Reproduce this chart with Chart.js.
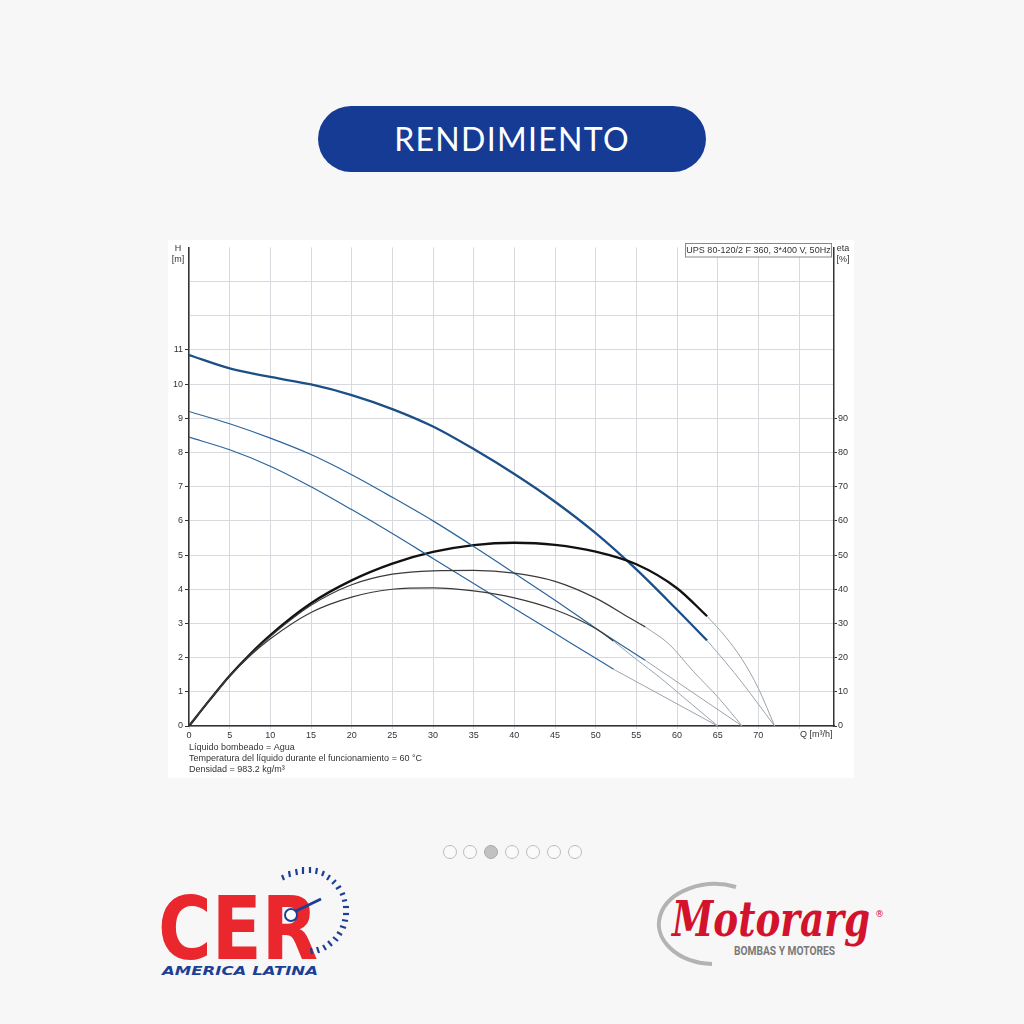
<!DOCTYPE html>
<html>
<head>
<meta charset="utf-8">
<script src="https://cdn.jsdelivr.net/npm/chart.js@4.4.1/dist/chart.umd.min.js"></script>
<style>
  html,body{margin:0;padding:0;}
  body{width:1024px;height:1024px;background:#f7f7f7;position:relative;overflow:hidden;font-family:"Liberation Sans",Arial,sans-serif;}
  #pill{position:absolute;left:318px;top:106px;width:388px;height:66px;border-radius:33px;background:#163b94;color:#fff;
        font-family:Lato,"Open Sans",sans-serif;font-size:32px;line-height:66px;text-align:center;letter-spacing:1.3px;}
  #box{position:absolute;left:168px;top:240px;width:686px;height:538px;background:#fff;}
  #c{position:absolute;left:0;top:0;}
  .dot{position:absolute;top:845px;width:12px;height:12px;border-radius:50%;border:1.5px solid #bdbdbd;background:#fafafa;}
  .dot.on{background:#c2c2c2;border-color:#aaa;}
  svg{position:absolute;}
</style>
</head>
<body>
<div id="pill">RENDIMIENTO</div>
<div id="box"><canvas id="c" width="686" height="538"></canvas></div>

<div class="dot" style="left:443px"></div>
<div class="dot" style="left:463px"></div>
<div class="dot on" style="left:484px"></div>
<div class="dot" style="left:505px"></div>
<div class="dot" style="left:526px"></div>
<div class="dot" style="left:547px"></div>
<div class="dot" style="left:568px"></div>

<!-- CER logo -->
<svg style="left:150px;top:860px" width="220" height="120" viewBox="0 0 220 120">
  <text x="8" y="99" font-family="DejaVu Sans, sans-serif" font-weight="bold" font-size="88" fill="#e9272c" textLength="160" lengthAdjust="spacingAndGlyphs">CER</text>
  <circle cx="141" cy="55" r="6" fill="#fff" stroke="#1d3f94" stroke-width="2"/>
  <line x1="146" y1="51" x2="171" y2="39" stroke="#1d3f94" stroke-width="3"/>
  <g stroke="#1d3f94" stroke-width="2.2">
    <line x1="132" y1="15" x2="134" y2="20"/><line x1="139" y1="11" x2="140" y2="17"/>
    <line x1="146" y1="9" x2="147" y2="15"/><line x1="153" y1="7" x2="153" y2="14"/>
    <line x1="160" y1="7" x2="160" y2="13"/><line x1="167" y1="8" x2="166" y2="14"/>
    <line x1="174" y1="11" x2="172" y2="16"/><line x1="180" y1="15" x2="177" y2="20"/>
    <line x1="186" y1="20" x2="182" y2="24"/><line x1="191" y1="26" x2="186" y2="29"/>
    <line x1="195" y1="33" x2="190" y2="35"/><line x1="197" y1="40" x2="192" y2="41"/>
    <line x1="199" y1="47" x2="193" y2="47"/><line x1="199" y1="54" x2="193" y2="54"/>
    <line x1="198" y1="61" x2="192" y2="60"/><line x1="196" y1="68" x2="190" y2="66"/>
    <line x1="192" y1="75" x2="187" y2="72"/><line x1="188" y1="81" x2="183" y2="77"/>
    <line x1="182" y1="86" x2="178" y2="81"/><line x1="176" y1="90" x2="173" y2="85"/>
    <line x1="169" y1="93" x2="167" y2="87"/><line x1="162" y1="94" x2="161" y2="88"/>
  </g>
  <text x="12" y="115" font-family="DejaVu Sans, sans-serif" font-weight="bold" font-style="italic" font-size="13" fill="#1d3f94" textLength="156" lengthAdjust="spacingAndGlyphs">AMERICA LATINA</text>
</svg>

<!-- Motorarg logo -->
<svg style="left:640px;top:870px" width="250" height="100" viewBox="0 0 250 100">
  <path d="M 96 17 A 56 40 0 1 0 72 94" fill="none" stroke="#b3b3b3" stroke-width="4"/>
  <text x="32" y="66" font-family="DejaVu Serif, serif" font-weight="bold" font-style="italic" font-size="48" fill="#d3122c" textLength="198" lengthAdjust="spacingAndGlyphs">Motorarg</text>
  <text x="235" y="47" font-family="DejaVu Sans, sans-serif" font-size="9" fill="#d3122c">®</text>
  <text x="94" y="85" font-family="Roboto, 'DejaVu Sans Condensed', sans-serif" font-weight="bold" font-size="12" fill="#7a7a7a" textLength="101" lengthAdjust="spacingAndGlyphs">BOMBAS Y MOTORES</text>
</svg>

<script>
// ---- Data (Q in m³/h, H in m, eta in %) ----
const flowHeadMain   = [0,5,10,15,20,25,30,35,40,45,50,55,60,63.7];
const headMain       = [10.85,10.46,10.21,9.99,9.68,9.27,8.76,8.1,7.37,6.56,5.64,4.58,3.4,2.5];
const flowHeadMainX  = [63.7,66,68,70,72];
const headMainX      = [2.5,1.86,1.27,0.64,0];

const flowHeadMid    = [0,5,10,15,20,25,30,35,40,45,50,56.1];
const headMid        = [9.2,8.84,8.42,7.94,7.35,6.69,6.0,5.25,4.47,3.68,2.86,1.92];
const flowHeadMidX   = [56.1,68];
const headMidX       = [1.92,0];

const flowHeadLow    = [0,5,10,15,20,25,30,35,40,45,50,52.2];
const headLow        = [8.45,8.08,7.6,7.0,6.33,5.63,4.9,4.17,3.44,2.71,1.98,1.66];
const flowHeadLowX   = [52.2,65];
const headLowX       = [1.66,0];

const flowEtaMain    = [0,2.5,5,7.5,10,15,20,25,30,35,40,45,50,55,60,63.7];
const etaMain        = [0,7.5,14.7,21,26.6,35.9,42.6,47.5,50.9,52.9,53.6,53,51,47.3,40.3,32.1];
const flowEtaMainX   = [63.7,66,68,70,72];
const etaMainX       = [32.1,26,19.5,11,0];

const flowEtaMid     = [0,2.5,5,7.5,10,15,20,25,30,35,40,45,50,54.2,56.1];
const etaMid         = [0,7.5,14.6,20.8,26.2,35.3,41.3,44.4,45.4,45.5,44.7,42.3,37.4,31.6,29];
const flowEtaMidX    = [56.1,59,62,65,68];
const etaMidX        = [29,24,16,8.5,0];

const flowEtaLow     = [0,2.5,5,7.5,10,15,20,25,30,35,40,45,50,52.2];
const etaLow         = [0,7.5,14.5,20.5,25.5,33.2,37.7,40,40.4,39.5,37.5,34,28.5,24.8];
const flowEtaLowX    = [52.2,55,58,61,65];
const etaLowX        = [24.8,19.5,14,8,0];

const leftTitle   = ['H','[m]'];
const rightTitle  = ['eta','[%]'];
const xTitle      = 'Q [m³/h]';
const infoLabel   = 'UPS 80-120/2 F 360, 3*400 V, 50Hz';
const notes       = ['Líquido bombeado = Agua',
                     'Temperatura del líquido durante el funcionamiento = 60 °C',
                     'Densidad = 983.2 kg/m³'];

const pts = (xs, ys) => xs.map((x, i) => ({x, y: ys[i]}));

const FONT = '"Liberation Sans", Arial, sans-serif';
const GRAY = '#9ca3ad';
const BLUE_T = '#1c4f87', BLUE = '#2b659b', BLACK_T = '#111', BLACK = '#3a3a3a';

function ds(data, color, width, axis) {
  return {data, borderColor: color, borderWidth: width, yAxisID: axis,
          pointRadius: 0, fill: false, cubicInterpolationMode: 'monotone'};
}

const datasets = [
  ds(pts(flowHeadMainX, headMainX), GRAY, 1, 'y'),
  ds(pts(flowHeadMidX, headMidX), GRAY, 1, 'y'),
  ds(pts(flowHeadLowX, headLowX), GRAY, 1, 'y'),
  ds(pts(flowEtaMainX, etaMainX), GRAY, 1, 'y1'),
  ds(pts(flowEtaMidX, etaMidX), GRAY, 1, 'y1'),
  ds(pts(flowEtaLowX, etaLowX), GRAY, 1, 'y1'),
  ds(pts(flowEtaLow, etaLow), BLACK, 1.2, 'y1'),
  ds(pts(flowEtaMid, etaMid), BLACK, 1.2, 'y1'),
  ds(pts(flowHeadLow, headLow), BLUE, 1.2, 'y'),
  ds(pts(flowHeadMid, headMid), BLUE, 1.2, 'y'),
  ds(pts(flowEtaMain, etaMain), BLACK_T, 2.3, 'y1'),
  ds(pts(flowHeadMain, headMain), BLUE_T, 2.3, 'y'),
];

const textPlugin = {
  id: 'texts',
  afterDraw(chart) {
    const {ctx, chartArea, scales} = chart;
    ctx.save();
    ctx.font = '9px ' + FONT;
    ctx.fillStyle = '#333';
    ctx.textBaseline = 'middle';
    ctx.textAlign = 'center';
    ctx.fillText(leftTitle[0], 10, 9);
    ctx.fillText(leftTitle[1], 10, 20);
    ctx.fillText(rightTitle[0], 675, 9);
    ctx.fillText(rightTitle[1], 675, 20);
    // info box
    ctx.fillStyle = '#fff';
    ctx.fillRect(517.5, 3.5, 146, 13.5);
    ctx.strokeStyle = '#888';
    ctx.lineWidth = 1;
    ctx.strokeRect(517.5, 3.5, 146, 13.5);
    ctx.fillStyle = '#333';
    ctx.fillText(infoLabel, 590.5, 10.5);
    // x axis title
    ctx.textAlign = 'left';
    ctx.fillText(xTitle, scales.x.getPixelForValue(75) + 1, chartArea.bottom + 9);
    // notes
    notes.forEach((t, i) => ctx.fillText(t, 21, chartArea.bottom + 22 + i * 11));
    ctx.restore();
  }
};

new Chart(document.getElementById('c'), {
  type: 'line',
  data: {datasets},
  plugins: [textPlugin],
  options: {
    responsive: false,
    animation: false,
    layout: {padding: {top: 6, left: 0, right: 0, bottom: 0}},
    plugins: {legend: {display: false}, tooltip: {enabled: false}},
    scales: {
      x: {
        type: 'linear', min: 0, max: 79.3,
        afterFit: s => { s.height = 52; },
        border: {color: '#333', width: 1.5},
        grid: {color: '#d7d9de', lineWidth: 1, tickLength: 3, tickColor: '#d7d9de'},
        ticks: {stepSize: 5, includeBounds: false, autoSkip: false, maxRotation: 0, padding: 1,
                color: '#333', font: {family: FONT, size: 9},
                callback: v => (v <= 70 ? String(v) : '')}
      },
      y: {
        type: 'linear', position: 'left', min: 0, max: 14,
        afterFit: s => { s.width = 21; },
        border: {color: '#333', width: 1.5},
        grid: {lineWidth: 1, tickLength: 4,
               color: c => (c.tick && c.tick.value === 14 ? 'rgba(0,0,0,0)' : '#d7d9de'),
               tickColor: c => (c.tick && c.tick.value <= 11 ? '#333' : 'rgba(0,0,0,0)')},
        ticks: {stepSize: 1, includeBounds: false, autoSkip: false, padding: 2,
                color: '#333', font: {family: FONT, size: 9},
                callback: v => (v <= 11 ? String(v) : '')}
      },
      y1: {
        type: 'linear', position: 'right', min: 0, max: 140,
        afterFit: s => { s.width = 20; },
        border: {color: '#333', width: 1.5},
        grid: {drawOnChartArea: false, tickLength: 3,
               tickColor: c => (c.tick && c.tick.value <= 90 ? '#333' : 'rgba(0,0,0,0)')},
        ticks: {stepSize: 10, includeBounds: false, autoSkip: false, padding: 1,
                color: '#333', font: {family: FONT, size: 9},
                callback: v => (v <= 90 ? String(v) : '')}
      }
    }
  }
});
</script>
</body>
</html>
